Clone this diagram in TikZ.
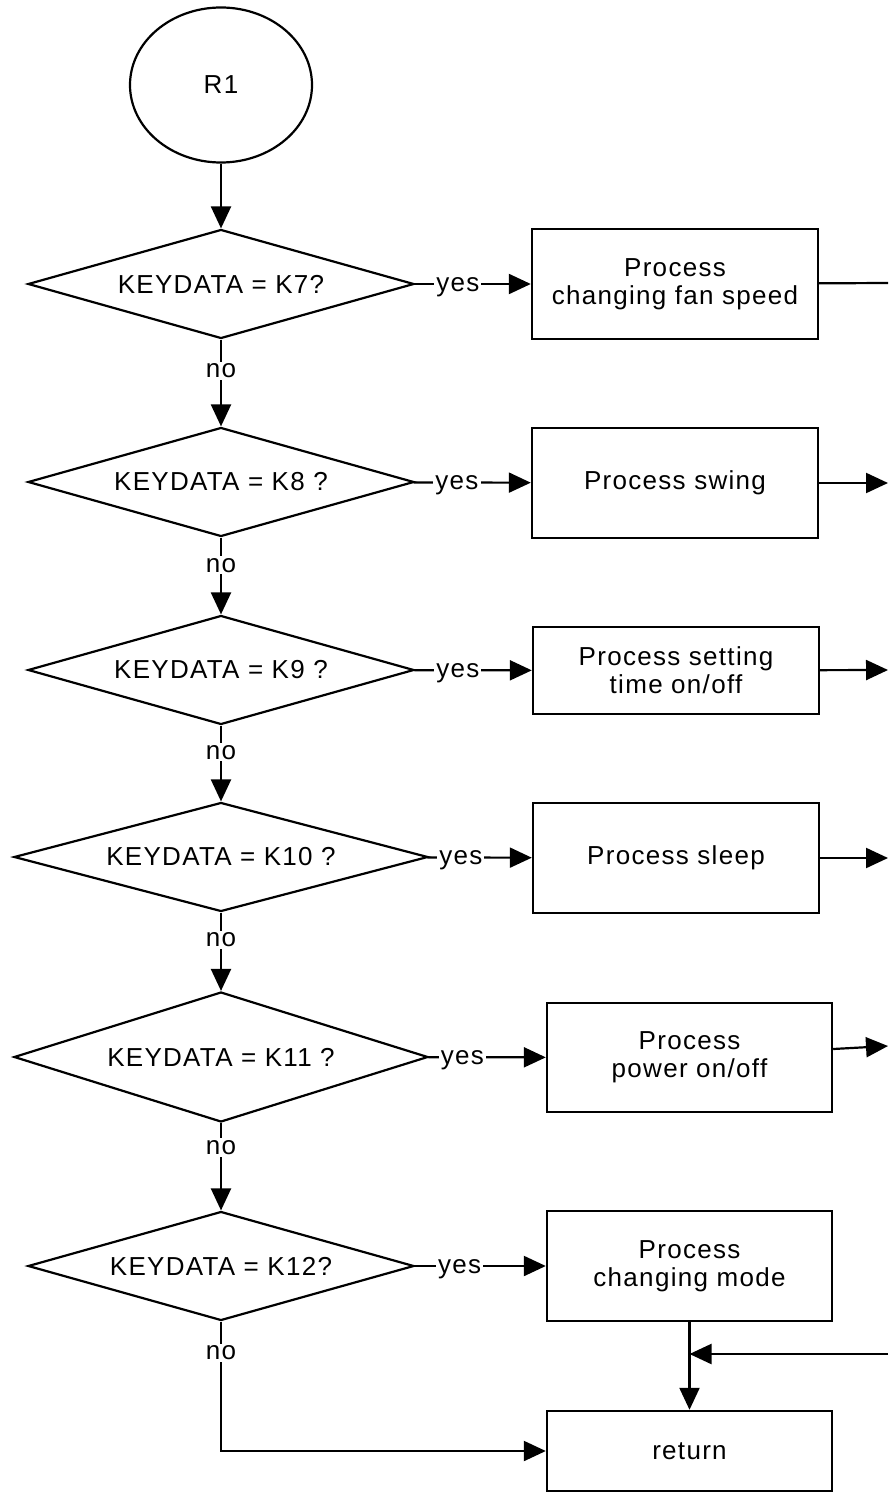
\documentclass[tikz,border=0pt]{standalone}
\usepackage{fontspec}
\setmainfont{Liberation Sans}[LetterSpace=5]
\usetikzlibrary{shapes.geometric,arrows.meta}

\tikzset{
  every node/.style={font=\fontsize{13pt}{14pt}\selectfont},
  decision/.style={diamond, draw, line width=1.1pt, aspect=3.54, inner sep=0pt,
    minimum width=193pt, minimum height=54.5pt},
  procbox/.style={rectangle, draw, line width=1.2pt, align=center,
    minimum width=143pt, minimum height=55pt},
  flow/.style={line width=1.1pt, -{Triangle[length=11pt,width=10pt]}},
  plain/.style={line width=1.1pt},
  lbl/.style={fill=white, inner sep=1pt},
  yeslbl/.style={lbl, yshift=-1.5pt}
}

\begin{document}
\begin{tikzpicture}[x=0.5pt, y=-0.5pt]
    \useasboundingbox (0,0) rectangle (888,1492);
    \clip (0,0) rectangle (888,1492);

    \node[ellipse, draw, line width=1.1pt, minimum width=91pt, minimum height=77.5pt] (R1) at (221,85) {R1};

    \node[decision] (d7) at (221,284) {KEYDATA = K7?};
    \node[decision] (d8) at (221,482) {KEYDATA = K8 ?};
    \node[decision] (d9) at (221,670) {KEYDATA = K9 ?};
    \node[decision, minimum width=207pt] (d10) at (221,857) {KEYDATA = K10 ?};
    \node[decision, minimum width=207pt, minimum height=65pt, aspect=3.2] (d11) at (221,1057) {KEYDATA = K11 ?};
    \node[decision] (d12) at (221,1266) {KEYDATA = K12?};

    \node[procbox] (fan) at (675,284) {Process\\changing fan speed};
    \node[procbox] (swing) at (675,483) {Process swing};
    \node[procbox, minimum height=43.5pt] (timer) at (676,670.5) {Process setting\\time on/off};
    \node[procbox] (sleep) at (676,858) {Process sleep};
    \node[procbox, minimum width=142.5pt, minimum height=54.5pt] (power) at (689.5,1057.5) {Process\\power on/off};
    \node[procbox, minimum width=142.5pt] (mode) at (689.5,1266) {Process\\changing mode};
    \node[procbox, minimum width=142.5pt, minimum height=40pt] (ret) at (689.5,1451) {return};

    % off the right edge
    \coordinate (o7) at (888,283);
    \coordinate (o8) at (888,483);
    \coordinate (o9) at (888,670);
    \coordinate (o10) at (888,858);
    \coordinate (o11) at (888,1046);
    \coordinate (back) at (888,1354);
    \coordinate (join) at (689.5,1354);

    \draw[flow] (R1) -- (d7);

    \draw[flow] (d7) -- (fan) node [pos=0.37,yeslbl] {yes};
    \draw[flow] (d8) -- (swing) node [pos=0.37,yeslbl] {yes};
    \draw[flow] (d9) -- (timer) node [pos=0.37,yeslbl] {yes};
    \draw[flow] (d10) -- (sleep) node [pos=0.32,yeslbl] {yes};
    \draw[flow] (d11) -- (power) node [pos=0.29,yeslbl] {yes};
    \draw[flow] (d12) -- (mode) node [pos=0.34,yeslbl] {yes};

    \draw[flow] (d7) -- (d8) node [pos=0.36,lbl] {no};
    \draw[flow] (d8) -- (d9) node [pos=0.36,lbl] {no};
    \draw[flow] (d9) -- (d10) node [pos=0.35,lbl] {no};
    \draw[flow] (d10) -- (d11) node [pos=0.35,lbl] {no};
    \draw[flow] (d11) -- (d12) node [pos=0.28,lbl] {no};
    \draw[flow] (d12) |- (ret) node [pos=0.12,lbl] {no};

    \draw[plain] (fan) -- (o7);
    \draw[flow] (swing) -- (o8);
    \draw[flow] (timer) -- (o9);
    \draw[flow] (sleep) -- (o10);
    \draw[flow] (power.east |- 0,1049) -- (o11);

    \draw[flow] (back) -- (join);
    \draw[flow] (mode) -- (ret);

\end{tikzpicture}
\end{document}
